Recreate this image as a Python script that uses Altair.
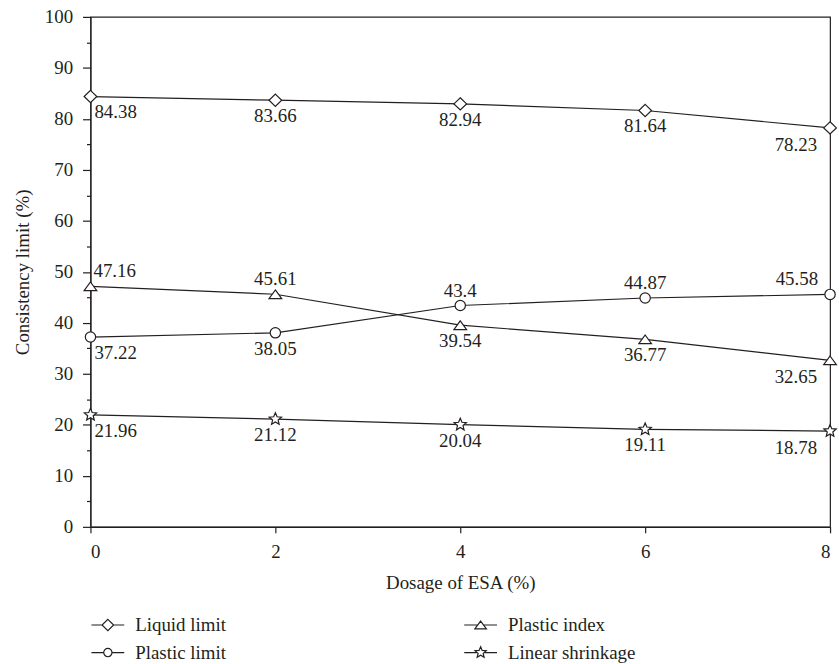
import math
import altair as alt
import pandas as pd

# ---- data ----
dosage = [0, 2, 4, 6, 8]
liquid_limit = [84.38, 83.66, 82.94, 81.64, 78.23]
plastic_limit = [37.22, 38.05, 43.4, 44.87, 45.58]
plastic_index = [47.16, 45.61, 39.54, 36.77, 32.65]
linear_shrinkage = [21.96, 21.12, 20.04, 19.11, 18.78]
series_names = ["Liquid limit", "Plastic limit", "Plastic index", "Linear shrinkage"]
y_tick_values = list(range(0, 101, 5))
x_tick_values = [0, 2, 4, 6, 8]

INK = "#231f20"
FONT = "Liberation Serif"
FS = 19

series_values = {
    "Liquid limit": liquid_limit,
    "Plastic limit": plastic_limit,
    "Plastic index": plastic_index,
    "Linear shrinkage": linear_shrinkage,
}


def label_side(name, i):
    # the crossing pair: the larger of the two gets its label above
    if name == "Plastic index":
        return "above" if plastic_index[i] > plastic_limit[i] else "below"
    if name == "Plastic limit":
        return "above" if plastic_limit[i] > plastic_index[i] else "below"
    return "below"


rows = []
for name in series_names:
    vals = series_values[name]
    for i, (x, v) in enumerate(zip(dosage, vals)):
        anchor = "left" if x == min(dosage) else ("right" if x == max(dosage) else "center")
        rows.append({
            "dosage": x, "value": v, "series": name, "label": f"{v:g}",
            "anchor": anchor, "side": label_side(name, i),
        })
df = pd.DataFrame(rows)


# ---- marker geometry (custom symbol paths) ----
def poly(pts, k=1.0):
    return "M" + "L".join(f"{x*k:.3f},{y*k:.3f}" for x, y in pts) + "Z"


def circ(r):
    return f"M{r:.3f},0A{r:.3f},{r:.3f},0,1,1,{-r:.3f},0A{r:.3f},{r:.3f},0,1,1,{r:.3f},0Z"


def star_pts(R, r):
    pts = []
    for k in range(10):
        ang = -math.pi / 2 + k * math.pi / 5
        rad = R if k % 2 == 0 else r
        pts.append((rad * math.cos(ang), rad * math.sin(ang)))
    return pts


diamond = [(0, -0.95), (0.98, 0), (0, 0.95), (-0.98, 0)]
triangle = [(0, -0.67), (0.98, 0.67), (-0.98, 0.67)]
star = star_pts(1.0, 0.45)

# order follows series_names: liquid, plastic limit, plastic index, shrinkage
chart_paths = [poly(diamond), circ(0.8), poly(triangle), poly(star)]

k = 0.36
half_w = [0.98 * k, 0.7 * k, 0.49 * k, 0.55 * k]
legend_shapes = [poly(diamond, k), circ(0.7 * k), poly(triangle, k), poly(star, k)]
legend_paths = [
    f"M-1,0H{-a:.3f}M{a:.3f},0H1" + s for a, s in zip(half_w, legend_shapes)
]

x_enc = alt.X(
    "dosage:Q",
    scale=alt.Scale(domain=[0, 8], nice=False, zero=False),
    axis=alt.Axis(values=x_tick_values, title="Dosage of ESA (%)", tickSize=6,
                  labelPadding=10, titlePadding=12, format="d"),
)
y_enc = alt.Y(
    "value:Q",
    scale=alt.Scale(domain=[0, 100], nice=False),
    axis=alt.Axis(
        values=y_tick_values,
        title="Consistency limit (%)",
        labelExpr="datum.value % 10 === 0 ? datum.label : ''",
        tickSize={"condition": {"test": "datum.value % 10 === 0", "value": 8}, "value": 4},
        labelPadding=10,
        titlePadding=12,
    ),
)

base = alt.Chart(df)

lines = base.mark_line(color=INK, strokeWidth=1.2).encode(x=x_enc, y=y_enc, detail="series:N")

points = base.mark_point(
    filled=True, fill="white", stroke=INK, strokeWidth=1.2, size=169, opacity=1
).encode(
    x=x_enc, y=y_enc,
    shape=alt.Shape("series:N", scale=alt.Scale(domain=series_names, range=chart_paths), legend=None),
)

legend_layer = base.transform_filter("false").mark_point(
    filled=False, color=INK, strokeWidth=1.2, opacity=1
).encode(
    x=x_enc, y=y_enc,
    shape=alt.Shape(
        "series:N",
        scale=alt.Scale(domain=series_names, range=legend_paths),
        legend=alt.Legend(
            title=None, orient="none", legendX=0, legendY=594, columns=2,
            columnPadding=236, rowPadding=-6, symbolSize=1089, symbolStrokeWidth=1.2,
            symbolStrokeColor=INK, labelFont=FONT, labelFontSize=FS, labelColor=INK,
            labelOffset=10, padding=0, symbolOffset=0,
        ),
    ),
)

offsets = {
    ("left", "below"): (4, 16), ("center", "below"): (0, 16), ("right", "below"): (-13, 17),
    ("left", "above"): (3, -15), ("center", "above"): (0, -15), ("right", "above"): (-12, -15),
}
text_layers = []
for (anchor, side), (dx, dy) in offsets.items():
    text_layers.append(
        base.transform_filter(
            f"datum.anchor === '{anchor}' && datum.side === '{side}'"
        ).mark_text(align=anchor, baseline="middle", dx=dx, dy=dy, font=FONT, fontSize=FS, color=INK)
        .encode(x=x_enc, y=y_enc, text="label:N")
    )

chart = alt.layer(lines, points, legend_layer, *text_layers).resolve_scale(
    shape="independent"
).properties(
    width=744, height=513,
    padding={"left": 13, "top": 6, "right": 0, "bottom": 0},
    background="white",
).configure_view(
    stroke=INK, strokeWidth=1.2
).configure_axis(
    domainColor=INK, tickColor=INK, labelColor=INK, titleColor=INK,
    labelFont=FONT, titleFont=FONT, labelFontSize=FS, titleFontSize=FS,
    titleFontWeight="normal", grid=False, domainWidth=1.2, tickWidth=1.2,
)

chart.save("out.html", embed_options={"renderer": "svg", "actions": False})
